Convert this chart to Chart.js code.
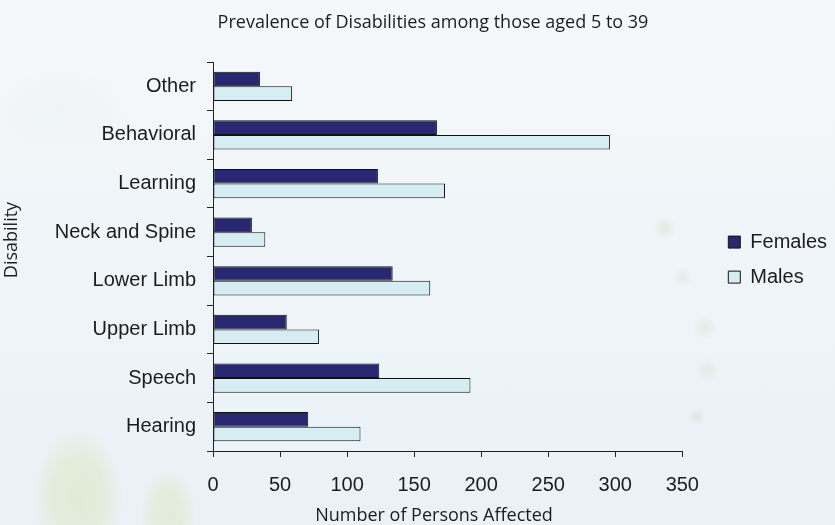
<!DOCTYPE html>
<html>
<head>
<meta charset="utf-8">
<title>Prevalence of Disabilities among those aged 5 to 39</title>
<script src="https://cdn.jsdelivr.net/npm/chart.js@4.4.1/dist/chart.umd.min.js"></script>
<style>
  html, body { margin: 0; padding: 0; }
  #wrap {
    position: relative;
    width: 835px;
    height: 525px;
    background:
      radial-gradient(ellipse 46px 70px at 78px 496px, rgba(214,228,178,0.5) 0%, rgba(214,228,178,0.4) 55%, rgba(214,228,178,0) 100%),
      radial-gradient(ellipse 28px 50px at 168px 516px, rgba(214,228,178,0.45) 0%, rgba(214,228,178,0.35) 55%, rgba(214,228,178,0) 100%),
      radial-gradient(ellipse 70px 45px at 60px 110px, rgba(225,232,222,0.25), rgba(225,232,222,0) 100%),
      radial-gradient(circle 12px at 665px 228px, rgba(215,222,205,0.5), rgba(215,222,205,0) 100%),
      radial-gradient(circle 10px at 683px 277px, rgba(215,222,205,0.45), rgba(215,222,205,0) 100%),
      radial-gradient(circle 12px at 705px 327px, rgba(215,222,205,0.45), rgba(215,222,205,0) 100%),
      radial-gradient(circle 12px at 707px 370px, rgba(215,222,205,0.45), rgba(215,222,205,0) 100%),
      radial-gradient(circle 9px at 697px 417px, rgba(210,212,200,0.45), rgba(210,212,200,0) 100%),
      linear-gradient(180deg, #f5f8fb 0%, #eef4f8 60%, #eaf2f7 100%);
  }
</style>
</head>
<body>
<div id="wrap"><canvas id="chart" width="835" height="525"></canvas></div>
<script>
// Disability categories, listed top to bottom
const categories = ['Other', 'Behavioral', 'Learning', 'Neck and Spine', 'Lower Limb', 'Upper Limb', 'Speech', 'Hearing'];

// Number of persons affected, by sex
const females = [35, 167, 123, 29, 134, 55, 124, 71];
const males   = [59, 296, 173, 39, 162, 79, 192, 110];

// Value axis range
const xMin = 0;
const xMax = 350;
const xStep = 50;

const chartTitle = 'Prevalence of Disabilities among those aged 5 to 39';
const xTitle = 'Number of Persons Affected';
const yTitle = 'Disability';

const inkColor = '#1c1c1c';
const axisColor = '#222222';
const tickFont = { family: "'Liberation Sans', Arial, sans-serif", size: 20 };
const captionFont = "18px 'Open Sans', sans-serif";

// Draws the chart title and the two axis captions
const captions = {
  id: 'captions',
  afterDraw(chart) {
    const ctx = chart.ctx;
    ctx.save();
    ctx.fillStyle = inkColor;
    ctx.font = captionFont;
    ctx.textAlign = 'center';
    ctx.textBaseline = 'alphabetic';
    ctx.fillText(chartTitle, 433, 28);
    ctx.fillText(xTitle, 434, 521);
    ctx.translate(17, 240);
    ctx.rotate(-Math.PI / 2);
    ctx.fillText(yTitle, 0, 0);
    ctx.restore();
  }
};

new Chart(document.getElementById('chart'), {
  type: 'bar',
  data: {
    labels: categories,
    datasets: [
      {
        label: 'Females',
        data: females,
        backgroundColor: '#272870',
        borderColor: '#111111',
        borderWidth: 1,
        borderSkipped: false
      },
      {
        label: 'Males',
        data: males,
        backgroundColor: '#d5edf3',
        borderColor: '#111111',
        borderWidth: 1,
        borderSkipped: false
      }
    ]
  },
  options: {
    indexAxis: 'y',
    responsive: false,
    animation: false,
    devicePixelRatio: 1,
    categoryPercentage: 0.6,
    barPercentage: 1.0,
    layout: { padding: { top: 62, left: 0, right: -2, bottom: 0 } },
    scales: {
      x: {
        min: xMin,
        max: xMax,
        ticks: { stepSize: xStep, color: inkColor, font: tickFont, padding: 16, maxRotation: 0 },
        grid: { drawOnChartArea: false, drawTicks: true, tickLength: 6, color: axisColor, lineWidth: 1 },
        border: { display: true, color: axisColor, width: 1 },
        afterFit(scale) { scale.height = 74; }
      },
      y: {
        ticks: { color: inkColor, font: tickFont, padding: 11 },
        grid: { offset: true, drawOnChartArea: false, drawTicks: true, tickLength: 6, color: axisColor, lineWidth: 1 },
        border: { display: true, color: axisColor, width: 1 },
        afterFit(scale) { scale.width = 213; }
      },
      // empty spacer between the plot and the legend
      gap: {
        type: 'linear',
        axis: 'y',
        position: 'right',
        display: true,
        ticks: { display: false },
        grid: { display: false, drawTicks: false },
        border: { display: false },
        afterFit(scale) { scale.width = 31; }
      }
    },
    plugins: {
      title: { display: false },
      tooltip: { enabled: false },
      legend: {
        position: 'right',
        align: 'center',
        fullSize: false,
        title: { display: true, text: '', font: { size: 1 }, padding: 2.5 },
        labels: {
          boxWidth: 12,
          boxHeight: 12,
          padding: 15,
          color: inkColor,
          font: tickFont
        }
      }
    }
  },
  plugins: [captions]
});
</script>
</body>
</html>
